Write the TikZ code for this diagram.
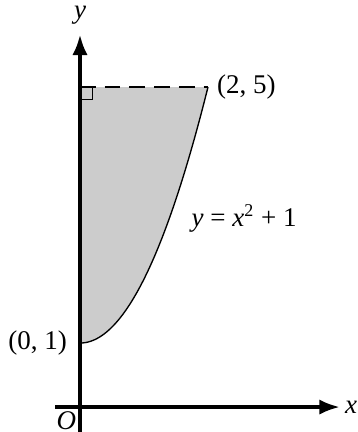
\documentclass[tikz,border=0pt]{standalone}
\usepackage{fontspec}
\setmainfont{Liberation Serif}
\usetikzlibrary{arrows.meta}
\tikzset{axis/.style={line width=1.6pt,-{Latex[length=3.2mm,width=2.4mm]}},lbl/.style={font=\fontsize{12}{14}\selectfont}}
\begin{document}
\begin{tikzpicture}[x=1cm,y=1cm]
\useasboundingbox (-1.25,-.39) rectangle (4.34,6.36);
\fill[black!20] (0,1) -- plot[domain=0:2,samples=60,smooth] (\x,{\x*\x+1}) -- (0,5) -- cycle;
\coordinate (O) at (0,0);\coordinate (xs) at (-.39,0);\coordinate (xe) at (4.06,0);\coordinate (ys) at (0,-.39);\coordinate (ye) at (0,5.82);
\coordinate (p) at (0,1);\coordinate (q) at (2,5);\coordinate (r) at (0,5);
\draw[axis] (xs) -- (xe);\draw[axis] (ys) -- (ye);
\draw[line width=.6pt] plot[domain=0:2,samples=60,smooth] (\x,{\x*\x+1});
\draw[line width=1.1pt,dash pattern=on 7pt off 4pt] (r) -- (q);
\draw[line width=.5pt] (r) rectangle ++(.2,-.2);
\node[lbl,anchor=west,inner sep=1pt] (xl) at (4.1,0){\textit{x}};\node[lbl,anchor=south] (yl) at (0,5.86){\textit{y}};
\node[lbl,anchor=north east,inner sep=1pt] (ol) at (-.02,-.03){\textit{O}};
\node[lbl,anchor=east] (pl) at (-.08,1){(0, 1)};\node[lbl,anchor=west] (ql) at (2.02,5){(2, 5)};
\node[lbl,anchor=west] (cl) at (1.62,2.95){\textit{y} = \textit{x}\textsuperscript{2} + 1};
\end{tikzpicture}
\end{document}
